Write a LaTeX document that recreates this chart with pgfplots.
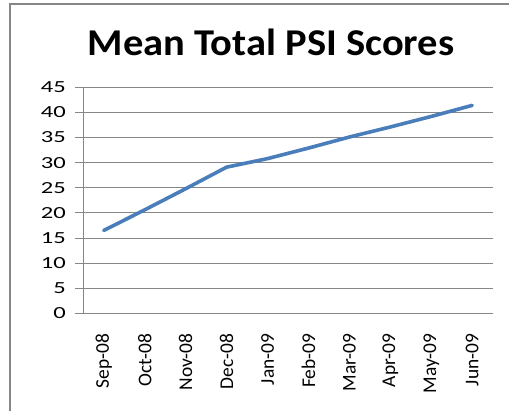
\documentclass[border=0pt]{standalone}
\usepackage{pgfplots}
\pgfplotsset{compat=1.18}
\usepackage{fontspec}
\setmainfont{Carlito}
\definecolor{linec}{HTML}{4A7EBB}
\definecolor{axc}{HTML}{868686}
\begin{document}
\begin{tikzpicture}[x=1bp,y=1bp]
\useasboundingbox (0,0) rectangle (509,411);
\fill[white] (0,0) rectangle (509,411);
\draw[axc, line width=2bp] (10,0) -- (10,407) -- (509,407);
\node[anchor=base, font=\fontsize{38}{42}\selectfont\bfseries] at (271,356) {\scalebox{1.07}[1]{Mean Total PSI Scores}};
\begin{axis}[
  at={(83.3bp,97.7bp)}, anchor=south west,
  scale only axis, width=409.4bp, height=226bp,
  xmin=-0.5, xmax=9.5, ymin=0, ymax=45,
  axis x line*=bottom, axis y line*=left,
  axis line style={axc, line width=0.8bp, -},
  xtick={0,...,9},
  xticklabels={Sep-08,Oct-08,Nov-08,Dec-08,Jan-09,Feb-09,Mar-09,Apr-09,May-09,Jun-09},
  x tick style={draw=none},
  extra x ticks={-0.5,0.5,1.5,2.5,3.5,4.5,5.5,6.5,7.5,8.5,9.5},
  extra x tick labels={},
  extra x tick style={tick align=outside, major tick length=5bp, tick style={axc, line width=0.8bp}},
  xticklabel style={rotate=90, anchor=east, font=\fontsize{19.5}{22}\selectfont, xshift=-17bp},
  ytick={0,5,...,45},
  ytick align=outside, major tick length=8bp,
  y tick style={axc, line width=0.8bp},
  ymajorgrids, grid style={axc, line width=0.8bp},
  yticklabel={\scalebox{1.45}[1]{\pgfmathprintnumber{\tick}}},
  yticklabel style={font=\fontsize{17}{20}\selectfont, anchor=east, xshift=-6bp},
  /pgf/number format/assume math mode=true,
]
\addplot[linec, line width=3.6bp, line join=round, line cap=round] coordinates {
(0,16.5) (1,20.6) (2,24.8) (3,29.1) (4,30.8) (5,32.9) (6,35.1) (7,37.1) (8,39.2) (9,41.4)
};
\end{axis}
\end{tikzpicture}
\end{document}
